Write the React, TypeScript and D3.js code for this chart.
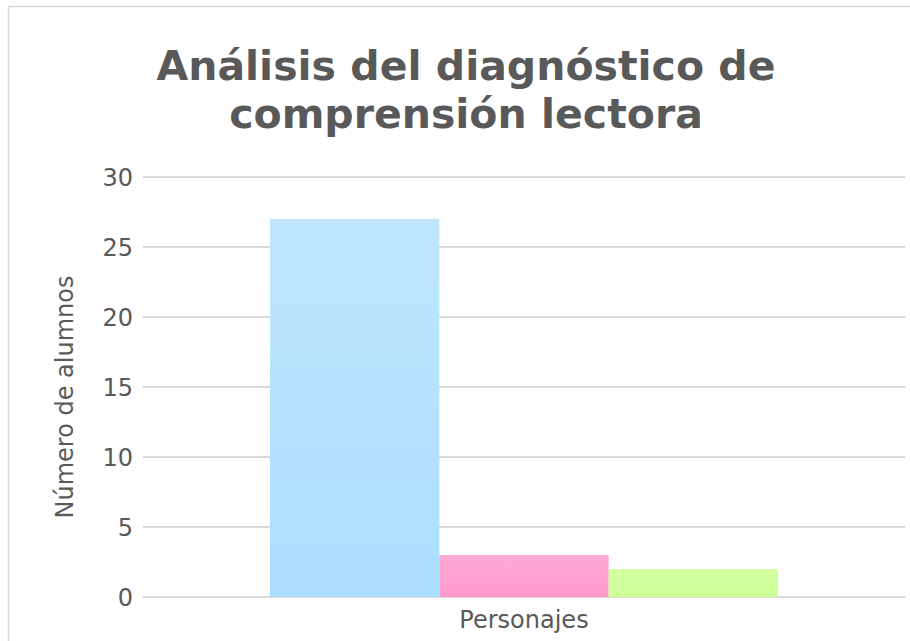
import React from "react";
import * as d3 from "d3";

const categories = ["Personajes"];
const seriesNames = ["Serie 1", "Serie 2", "Serie 3"];
const seriesValues = [27, 3, 2];
const seriesTop = ["#c0e6ff", "#ffaad4", "#d4ffa0"];
const seriesBottom = ["#aadeff", "#ff99cc", "#cdff99"];
const yTicks = [0, 5, 10, 15, 20, 25, 30];
const titleLines = ["Análisis del diagnóstico de", "comprensión lectora"];
const yTitle = "Número de alumnos";

export default function App() {
  const W = 910, H = 641;
  const left = 143, right = 905, top = 177, bottom = 597;
  const y = d3.scaleLinear().domain([0, 30]).range([bottom, top]);
  const x0 = d3.scaleBand().domain(categories).range([left, right]).paddingInner(0).paddingOuter(0.25);
  const x1 = d3.scaleBand().domain(seriesNames).range([0, x0.bandwidth()]).padding(0);
  const font = "'DejaVu Sans', sans-serif";
  return (
    <svg width={W} height={H} style={{ position: "absolute", left: 0, top: 0 }} fontFamily={font}>
      <defs>
        {seriesNames.map((s, i) => (
          <linearGradient key={s} id={`g${i}`} x1="0" y1="0" x2="0" y2="1">
            <stop offset="0" stopColor={seriesTop[i]} />
            <stop offset="1" stopColor={seriesBottom[i]} />
          </linearGradient>
        ))}
      </defs>
      <rect x={0} y={0} width={W} height={H} fill="#fff" />
      <rect x={8.5} y={6.5} width={W + 10} height={H + 10} fill="#fff" stroke="#d9d9d9" strokeWidth={1.5} />
      {titleLines.map((t, i) => (
        <text key={i} x={466} y={80 + i * 47.5} textAnchor="middle" fontSize={41} fontWeight="bold" fill="#595959">{t}</text>
      ))}
      {yTicks.map((t) => (
        <g key={t}>
          <line x1={left} x2={right} y1={y(t)} y2={y(t)} stroke="#d9d9d9" strokeWidth={2} />
          <text x={133} y={y(t)} dy="0.36em" textAnchor="end" fontSize={24} fill="#595959">{t}</text>
        </g>
      ))}
      {categories.map((c) => (
        <g key={c}>
          {seriesNames.map((s, i) => (
            <rect key={s} x={x0(c)! + x1(s)!} y={y(seriesValues[i])} width={x1.bandwidth()} height={bottom - y(seriesValues[i])} fill={`url(#g${i})`} />
          ))}
          <text x={x0(c)! + x0.bandwidth() / 2} y={628} textAnchor="middle" fontSize={24} fill="#595959">{c}</text>
        </g>
      ))}
      <text transform={`translate(73,397) rotate(-90)`} textAnchor="middle" fontSize={24} fill="#595959">{yTitle}</text>
    </svg>
  );
}
